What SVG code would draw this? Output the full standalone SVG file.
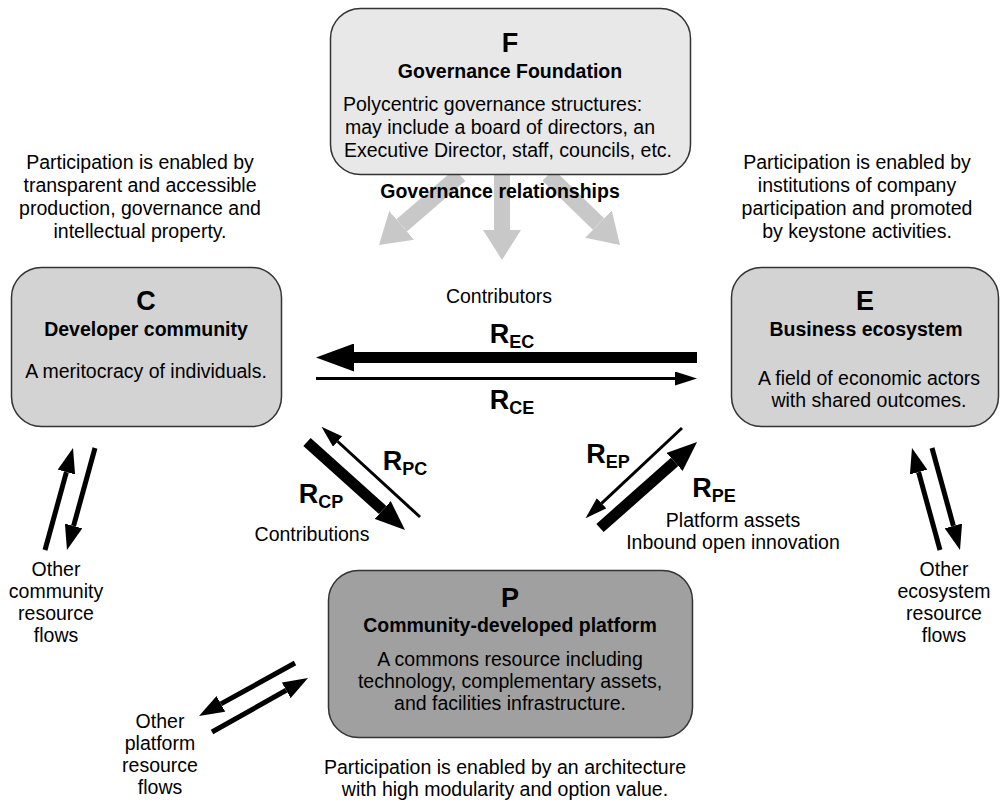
<svg xmlns="http://www.w3.org/2000/svg" width="1000" height="800" viewBox="0 0 1000 800">
<style>
text{font-family:"Liberation Sans",Arial,sans-serif;fill:#000}
.t{font-size:19.5px}
.tm{font-size:19.5px;text-anchor:middle}
.b{font-size:19.5px;font-weight:bold;text-anchor:middle}
.L{font-size:27px;font-weight:bold;text-anchor:middle}
.R{font-size:27px;font-weight:bold;text-anchor:middle}
.s{font-size:18px}
.box{stroke:#333;stroke-width:1.5}
.k{stroke:#000;fill:none}
.g{stroke:#c8c8c8;stroke-width:16;fill:none}
</style>
<defs>
<marker id="hbig" markerUnits="userSpaceOnUse" viewBox="0 0 38 28" refX="0" refY="14" markerWidth="38" markerHeight="28" orient="auto"><path d="M0,0 L38,14 L0,28 z" fill="#000"/></marker>
<marker id="hmed" markerUnits="userSpaceOnUse" viewBox="0 0 30 24" refX="0" refY="12" markerWidth="30" markerHeight="24" orient="auto"><path d="M0,0 L30,12 L0,24 z" fill="#000"/></marker>
<marker id="hsm" markerUnits="userSpaceOnUse" viewBox="0 0 22 14" refX="0" refY="7" markerWidth="22" markerHeight="14" orient="auto"><path d="M0,0 L22,7 L0,14 z" fill="#000"/></marker>
<marker id="hside" markerUnits="userSpaceOnUse" viewBox="0 0 25 18" refX="0" refY="9" markerWidth="25" markerHeight="18" orient="auto"><path d="M0,0 L25,9 L0,18 z" fill="#000"/></marker>
<marker id="hgray" markerUnits="userSpaceOnUse" viewBox="0 0 30 38" refX="0" refY="19" markerWidth="30" markerHeight="38" orient="auto"><path d="M0,0 L30,19 L0,38 z" fill="#c8c8c8"/></marker>
</defs>

<g id="connectors">
<path class="g" d="M460,175 L401.7,225.4" marker-end="url(#hgray)"/>
<path class="g" d="M502,175 L502,230" marker-end="url(#hgray)"/>
<path class="g" d="M548,175 L598.5,224.1" marker-end="url(#hgray)"/>
<path class="k" stroke-width="11" d="M697,357.5 L354,357.5" marker-end="url(#hbig)"/>
<path class="k" stroke-width="3" d="M316,378.5 L675,378.5" marker-end="url(#hsm)"/>
<path class="k" stroke-width="11" d="M307,442 L382.7,510" marker-end="url(#hmed)"/>
<path class="k" stroke-width="3" d="M420,517 L337.7,441.5" marker-end="url(#hsm)"/>
<path class="k" stroke-width="11" d="M600,528 L674.6,461.9" marker-end="url(#hmed)"/>
<path class="k" stroke-width="3" d="M682,428 L601.6,503.3" marker-end="url(#hsm)"/>
<path class="k" stroke-width="5" d="M45,550 L66.4,472.1" marker-end="url(#hside)"/>
<path class="k" stroke-width="5" d="M95,448 L73.6,525.9" marker-end="url(#hside)"/>
<path class="k" stroke-width="5" d="M940,550 L918.6,472.1" marker-end="url(#hside)"/>
<path class="k" stroke-width="5" d="M932,448 L953.4,525.9" marker-end="url(#hside)"/>
<path class="k" stroke-width="5" d="M295,663 L220.9,703.9" marker-end="url(#hside)"/>
<path class="k" stroke-width="5" d="M212,732 L286.2,690.3" marker-end="url(#hside)"/>
</g>

<g id="node-F">
<rect class="box" x="330.5" y="8.5" width="360" height="166" rx="30" fill="#e8e8e8"/>
<text class="L" x="510" y="52">F</text>
<text class="b" x="510" y="78">Governance Foundation</text>
<text class="t" x="343" y="111">Polycentric governance structures:</text>
<text class="t" x="345" y="134">may include a board of directors, an</text>
<text class="t" x="344" y="157">Executive Director, staff, councils, etc.</text>
</g>
<text class="b" x="500" y="198">Governance relationships</text>

<g id="node-C">
<rect class="box" x="11.5" y="267.5" width="270" height="159" rx="30" fill="#d3d3d3"/>
<text class="L" x="146" y="310">C</text>
<text class="b" x="146" y="336">Developer community</text>
<text class="tm" x="146" y="378">A meritocracy of individuals.</text>
</g>

<g id="node-E">
<rect class="box" x="731.5" y="267.5" width="267" height="159" rx="30" fill="#d3d3d3"/>
<text class="L" x="865" y="310">E</text>
<text class="b" x="866" y="336">Business ecosystem</text>
<text class="tm" x="869" y="385">A field of economic actors</text>
<text class="tm" x="869" y="407">with shared outcomes.</text>
</g>

<g id="node-P">
<rect class="box" x="328.5" y="570.5" width="364" height="167" rx="30" fill="#a0a0a0"/>
<text class="L" x="510" y="607">P</text>
<text class="b" x="510" y="632">Community-developed platform</text>
<text class="tm" x="510" y="666">A commons resource including</text>
<text class="tm" x="510" y="688">technology, complementary assets,</text>
<text class="tm" x="510" y="710">and facilities infrastructure.</text>
</g>

<g id="labels">
<text class="tm" x="140" y="169">Participation is enabled by</text>
<text class="tm" x="140" y="192">transparent and accessible</text>
<text class="tm" x="140" y="215">production, governance and</text>
<text class="tm" x="140" y="238">intellectual property.</text>
<text class="tm" x="857" y="169">Participation is enabled by</text>
<text class="tm" x="857" y="192">institutions of company</text>
<text class="tm" x="857" y="215">participation and promoted</text>
<text class="tm" x="857" y="238">by keystone activities.</text>
<text class="tm" x="499" y="303">Contributors</text>
<text class="R" x="512" y="343">R<tspan class="s" dy="5">EC</tspan></text>
<text class="R" x="512" y="409">R<tspan class="s" dy="5">CE</tspan></text>
<text class="R" x="405" y="470">R<tspan class="s" dy="5">PC</tspan></text>
<text class="R" x="321" y="503">R<tspan class="s" dy="5">CP</tspan></text>
<text class="R" x="608" y="463">R<tspan class="s" dy="5">EP</tspan></text>
<text class="R" x="714" y="497">R<tspan class="s" dy="5">PE</tspan></text>
<text class="tm" x="312" y="541">Contributions</text>
<text class="tm" x="733" y="527">Platform assets</text>
<text class="tm" x="733" y="549">Inbound open innovation</text>
<text class="tm" x="56" y="576">Other</text>
<text class="tm" x="56" y="598">community</text>
<text class="tm" x="56" y="620">resource</text>
<text class="tm" x="56" y="642">flows</text>
<text class="tm" x="944" y="576">Other</text>
<text class="tm" x="944" y="598">ecosystem</text>
<text class="tm" x="944" y="620">resource</text>
<text class="tm" x="944" y="642">flows</text>
<text class="tm" x="160" y="728">Other</text>
<text class="tm" x="160" y="750">platform</text>
<text class="tm" x="160" y="772">resource</text>
<text class="tm" x="160" y="794">flows</text>
<text class="tm" x="505" y="774">Participation is enabled by an architecture</text>
<text class="tm" x="505" y="796">with high modularity and option value.</text>
</g>
</svg>
